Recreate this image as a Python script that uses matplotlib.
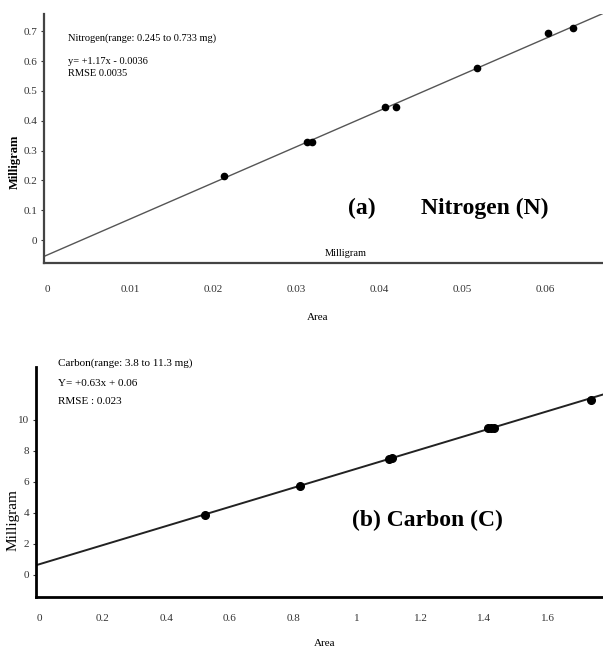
import numpy as np
import matplotlib.pyplot as plt

plt.rcParams['font.family'] = ['Liberation Serif', 'DejaVu Serif']

# (a) Nitrogen calibration
n_area = [0.0213, 0.0313, 0.0319, 0.0407, 0.0420, 0.0518, 0.0604, 0.0634]
n_mg = [0.214, 0.330, 0.330, 0.445, 0.445, 0.576, 0.693, 0.710]
n_xticks = [0, 0.01, 0.02, 0.03, 0.04, 0.05, 0.06]
n_xlabels = ["0", "0.01", "0.02", "0.03", "0.04", "0.05", "0.06"]
n_yticks = [0, 0.1, 0.2, 0.3, 0.4, 0.5, 0.6, 0.7]
n_ylabels = ["0", "0.1", "0.2", "0.3", "0.4", "0.5", "0.6", "0.7"]

# (b) Carbon calibration
c_area = [0.52, 0.82, 1.10, 1.11, 1.41, 1.42, 1.43, 1.735]
c_mg = [3.85, 5.75, 7.50, 7.55, 9.45, 9.50, 9.50, 11.30]
c_xticks = [0, 0.2, 0.4, 0.6, 0.8, 1.0, 1.2, 1.4, 1.6]
c_xlabels = ["0", "0.2", "0.4", "0.6", "0.8", "1", "1.2", "1.4", "1.6"]
c_yticks = [0, 2, 4, 6, 8, 10]
c_ylabels = ["0", "2", "4", "6", "8", "10"]

fig = plt.figure(figsize=(6.03, 6.5), dpi=100)
ax1 = fig.add_axes([0.073, 0.5954, 0.927, 0.3826])
ax2 = fig.add_axes([0.0597, 0.0815, 0.9403, 0.3539])


def style(ax, lw, col, xpad):
    for s in ["top", "right"]:
        ax.spines[s].set_visible(False)
    for s in ["left", "bottom"]:
        ax.spines[s].set_linewidth(lw)
        ax.spines[s].set_color(col)
    ax.tick_params(axis="x", length=0, pad=xpad, labelsize=8, colors="#333333")
    ax.tick_params(axis="y", length=2, pad=3, labelsize=8, colors="#333333")


# panel (a)
xlim_a = (-0.0004, 0.067)
k, b = np.polyfit(n_area, n_mg, 1)
xx = np.array(xlim_a)
ax1.plot(xx, k * xx + b, color="#555555", lw=1.0)
ax1.plot(n_area, n_mg, "o", color="black", ms=4.5)
ax1.set_xlim(*xlim_a)
ax1.set_ylim(-0.077, 0.757)
ax1.set_xticks(n_xticks, n_xlabels)
ax1.set_yticks(n_yticks, n_ylabels)
style(ax1, 1.6, "#444444", 16)
ax1.text(0.54, 0.04, "Milligram", transform=ax1.transAxes, fontsize=7.5, ha="center", va="center")
ax1.text(0.544, 0.221, "(a)", transform=ax1.transAxes, fontsize=17, fontweight="bold", va="center")
ax1.text(0.674, 0.221, "Nitrogen (N)", transform=ax1.transAxes, fontsize=17, fontweight="bold", va="center")
fig.text(0.527, 1 - 318 / 650, "Area", fontsize=8, ha="center", va="center")
fig.text(0.025, 1 - 162 / 650, "Milligram", fontsize=9, fontweight="bold",
         rotation=90, ha="center", va="center")
fig.text(68 / 603, 1 - 38 / 650, "Nitrogen(range: 0.245 to 0.733 mg)", fontsize=7.5, va="center")
fig.text(68 / 603, 1 - 62 / 650, "y= +1.17x - 0.0036", fontsize=7.5, va="center")
fig.text(68 / 603, 1 - 73 / 650, "RMSE 0.0035", fontsize=7.5, va="center")

# panel (b)
xlim_b = (-0.01, 1.773)
k, b = np.polyfit(c_area, c_mg, 1)
xx = np.array(xlim_b)
ax2.plot(xx, k * xx + b, color="#222222", lw=1.4)
ax2.plot(c_area, c_mg, "o", color="black", ms=5.5)
ax2.set_xlim(*xlim_b)
ax2.set_ylim(-1.42, 13.4)
ax2.set_xticks(c_xticks, c_xlabels)
ax2.set_yticks(c_yticks, c_ylabels)
style(ax2, 2.0, "black", 12)
ax2.text(0.557, 0.335, "(b) Carbon (C)", transform=ax2.transAxes, fontsize=17,
         fontweight="bold", va="center")
fig.text(0.539, 1 - 643 / 650, "Area", fontsize=8, ha="center", va="center")
fig.text(0.022, 1 - 520 / 650, "Milligram", fontsize=11,
         rotation=90, ha="center", va="center")
fig.text(58 / 603, 1 - 363 / 650, "Carbon(range: 3.8 to 11.3 mg)", fontsize=8, va="center")
fig.text(58 / 603, 1 - 383 / 650, "Y= +0.63x + 0.06", fontsize=8, va="center")
fig.text(58 / 603, 1 - 401 / 650, "RMSE : 0.023", fontsize=8, va="center")

fig.savefig("out.png", dpi=100)
